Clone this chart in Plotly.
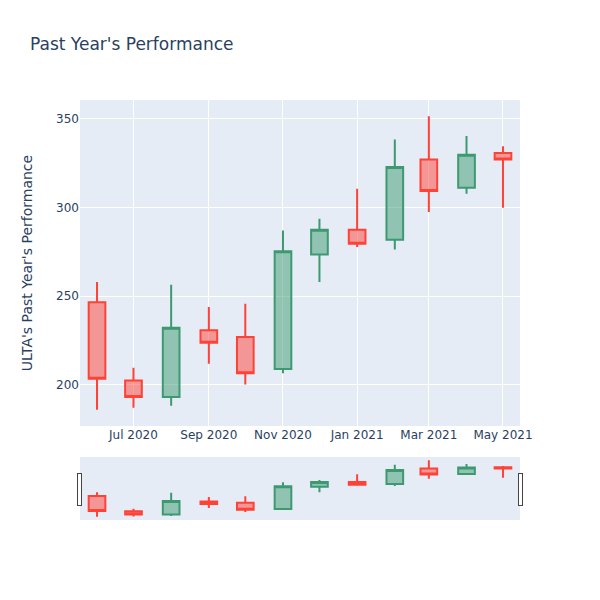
# Candlestick of monthly prices with a range slider
import plotly.graph_objects as go

dates = ["2020-06-01", "2020-07-01", "2020-08-01", "2020-09-01", "2020-10-01", "2020-11-01",
         "2020-12-01", "2021-01-01", "2021-02-01", "2021-03-01", "2021-04-01", "2021-05-01"]
open_ = [246.6, 202.5, 193.1, 230.7, 226.9, 208.9, 273.5, 287.4, 281.8, 326.9, 311.1, 330.6]
high = [257.9, 209.6, 256.4, 243.8, 245.7, 287.0, 293.6, 310.5, 338.2, 351.3, 340.2, 334.4]
low = [186.0, 187.1, 188.2, 211.9, 200.2, 206.6, 257.9, 277.6, 276.2, 297.4, 307.7, 299.8]
close = [203.4, 193.1, 232.2, 223.7, 206.6, 275.2, 287.4, 279.5, 322.7, 309.2, 329.7, 326.9]

fig = go.Figure(go.Candlestick(x=dates, open=open_, high=high, low=low, close=close))

# page body has an 8px margin, so shrink the figure to line up with the reference
fig.update_layout(
    width=592, height=592,
    margin=dict(l=72, r=80, t=92, b=80),
    font=dict(family="DejaVu Sans"),
    title=dict(text="Past Year's Performance", x=22 / 592, y=1 - 36 / 592, yanchor="middle"),
)
fig.update_yaxes(title=dict(text="ULTA's Past Year's Performance", standoff=20))

fig.write_html("out.html")
